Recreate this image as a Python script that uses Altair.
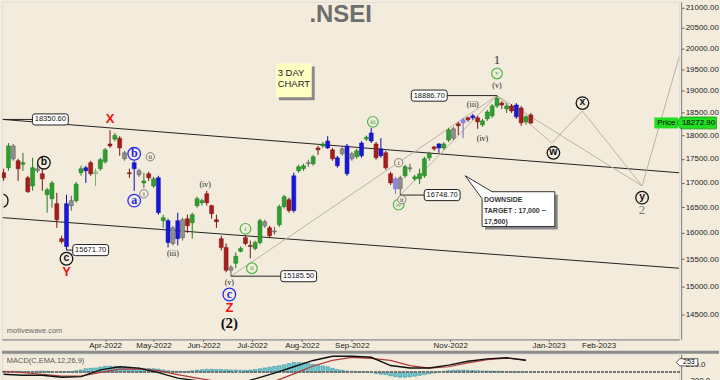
import altair as alt
import pandas as pd

BG = "#F3ECDC"
SANS = "Liberation Sans"
SERIF = "Liberation Serif"

# ---------------- 3-day bars ----------------
bar_dates = pd.date_range("2022-01-28", periods=110, freq="3D").strftime("%Y-%m-%d").tolist()
bar_open = [17206,17311,17773,17458,17385,17101,16934,17290,17185,16755,
            16676,16576,15890,16576,16636,16636,17206,17311,17416,17185,
            17290,17437,17815,17920,17941,17626,17206,17416,17248,16996,
            17185,16934,17101,16238,16238,16099,16238,15909,16278,16198,
            16536,16596,16775,16536,16258,15890,15723,15351,15425,15648,
            15909,15760,15704,15816,16218,16099,16039,16158,16516,16656,
            16437,17248,17290,17416,17395,17731,17773,17878,17689,17521,
            17710,17773,17605,17542,17836,17920,18054,17815,17710,17626,
            17185,17080,17101,17143,17311,17080,17080,17143,17521,17752,
            17815,17731,17899,18143,18253,18342,18386,18430,18386,18231,
            18364,18430,18651,18717,18585,18651,18673,18607,18297,18452]
bar_high = [17290,17836,17815,17500,17626,17143,17521,17395,17395,16895,
            17038,16795,15946,16755,16735,17017,17353,17353,17458,17290,
            17521,17731,18114,18054,17983,17668,17290,17458,17290,17206,
            17227,17122,17143,16357,16278,16138,16397,16298,16357,16397,
            16715,16676,16835,16556,16357,15946,15797,15390,15630,15741,
            15946,15853,15853,16278,16258,16138,16119,16556,16755,16696,
            17206,17374,17395,17479,17584,17773,17857,17983,17731,17563,
            17752,17815,17647,17710,17878,18000,18165,17857,17941,17668,
            17227,17122,17143,17374,17395,17164,17290,17542,17647,17773,
            17836,17857,18165,18187,18297,18386,18408,18474,18430,18364,
            18562,18695,18886.7,18761,18717,18695,18717,18651,18452,18496]
bar_low = [17038,17248,17458,17038,17248,16795,16835,17206,16835,16397,
           16495,16099,15797,15671.7,16437,16596,17143,16996,17143,16934,
           17248,17395,17731,17878,17563,17458,17101,16835,17122,16895,
           17038,16895,16357,16099,15723,15760,15760,15853,15999,15890,
           16495,16536,16536,16278,16099,15667,15258,15185.5,15332,15630,
           15760,15518,15667,15779,16099,15909,15965,16119,16477,16397,
           16397,17206,17248,17332,17353,17584,17731,17710,17458,17311,
           17563,17143,17458,17500,17521,17878,17836,17479,17521,17269,
           16954,16775,16748.7,17101,17227,17038,16974,17101,17458,17668,
           17626,17689,17857,17899,18010,17941,18297,18342,18143,18187,
           18319,18386,18607,18585,18496,18496,18364,18209,18231,18253]
bar_close = [17101,17773,17500,17290,17416,16815,17311,17248,17080,16855,
             16996,16258,15834,15741,16536,16974,17290,17248,17185,17227,
             17479,17689,17773,18000,17731,17500,17185,17290,17164,17038,
             17101,17080,16397,16298,15816,15797,15890,16258,16138,16357,
             16676,16636,16596,16377,16218,15723,15295,15295,15555,15704,
             15797,15741,15816,16238,16138,15946,16019,16516,16715,16437,
             17143,17332,17353,17395,17542,17689,17815,17731,17500,17353,
             17605,17185,17500,17668,17563,17962,17878,17521,17563,17311,
             16996,16875,16875,17332,17290,17122,17185,17500,17605,17710,
             17731,17815,18120,17941,18209,18275,18342,18386,18297,18319,
             18518,18651,18828,18673,18651,18540,18408,18275,18408,18272.9]
bar_kind = ["r","g","k","r","g","r","g","k","r","g",
            "g","r","r","b","k","g","g","b","r","lg",
            "g","g","r","g","r","k","r","b","k","g",
            "r","g","b","g","b","k","b","k","r","g",
            "g","g","r","r","r","r","r","k","g","g",
            "r","r","g","g","k","r","k","g","g","r",
            "b","g","g","k","g","r","g","b","r","b",
            "k","b","k","g","b","g","b","r","b","r",
            "r","lb","k","g","k","g","g","g","g","r",
            "b","g","g","k","r","lb","r","b","r","g",
            "g","g","g","r","g","r","b","r","g","r"]

# ---------------- MACD ----------------
macd_hist = [20,25,30,25,20,15,20,25,30,25,20,15,10,15,20,40,60,
             90,100,110,130,
             150,155,150,145,140,130,
             115,105,100,95,90,80,
             60,40,30,25,20,25,
             40,55,65,75,75,70,70,65,60,55,
             50,50,55,70,
             90,110,130,150,165,
             190,220,250,250,240,220,
             200,180,160,140,
             100,70,50,35,25,15,10,5,
             -10,-30,-50,-60,
             -90,-110,-125,-125,-115,-100,
             -80,-60,-40,-20,
             10,25,40,50,55,55,50,45,
             40,35,30,30,25,25,20,20,15,15,10,5]
macd_line = [-50,-75,-75,-125,-110,60,140,105,-10,-150,-215,-280,-300,-170,
             -20,140,300,405,405,380,170,110,110,180,280,340,370,304]
macd_signal = [25,-10,-50,-100,-100,-5,80,85,40,-60,-150,-230,-290,-310,
               -230,-40,160,300,380,355,300,170,105,140,240,320,360,300]
macd_dates = bar_dates[::4]

price_ticks = [14500,15000,15500,16000,16500,17000,17500,18000,18500,19000,19500,20000,20500,21000]

candles = pd.DataFrame(dict(date=bar_dates, open=bar_open, high=bar_high, low=bar_low,
                            close=bar_close, kind=bar_kind))
hist_df = pd.DataFrame(dict(date=bar_dates, h=macd_hist))
macd_df = pd.DataFrame(dict(date=macd_dates, macd=macd_line, sig=macd_signal))

KINDS = ["g", "lg", "r", "b", "lb", "k"]
BODY = ["#2E9E2E", "#8CCB8C", "#A81C1C", "#1818D8", "#8A8AE6", "#8F8F8F"]
WICK = ["#1F7A1F", "#6DB36D", "#7A1010", "#0C0CA8", "#6A6AD0", "#5A5A5A"]


def dt(y, m, d):
    return alt.DateTime(year=y, month=m, date=d, utc=True)


XS = alt.Scale(type="utc", domain=[dt(2022, 1, 27), dt(2023, 3, 23)], padding=0)
YS = alt.Scale(type="log", domain=[14069, 21152], nice=False, padding=0)
X_AX = alt.Axis(values=[dt(2022, 4, 1), dt(2022, 5, 1), dt(2022, 6, 1), dt(2022, 7, 1),
                        dt(2022, 8, 1), dt(2022, 9, 1), dt(2022, 11, 1), dt(2023, 1, 1),
                        dt(2023, 2, 1)],
                format="%b-%Y", title=None, grid=False, labelFont=SANS,
                labelFontSize=8, labelColor="#222", tickSize=2, tickColor="#666",
                domainColor="#777", labelPadding=0, labelFlush=False, labelOverlap=False)
Y_AX = alt.Axis(orient="right", values=price_ticks, format=".2f", title=None, grid=False,
                labelFont=SANS, labelFontSize=8, labelColor="#222", tickSize=3,
                tickColor="#666", domainColor="#777", offset=2, labelPadding=1,
                labelOverlap=False, labelFlush=False)


def X(f):
    return alt.X(f, type="temporal", scale=XS, axis=X_AX)


def Y(f):
    return alt.Y(f, type="quantitative", scale=YS, axis=Y_AX)


def seg(df, color, width):
    return alt.Chart(df).mark_rule(color=color, strokeWidth=width, clip=True).encode(
        x=X("d1"), x2="d2", y=Y("p1"), y2="p2")


def txt(df, clip=True, **kw):
    return alt.Chart(df).mark_text(clip=clip, **kw).encode(x=X("d"), y=Y("p"), text="t:N")


def shape(df, path, size, fill, stroke=None, sw=1.0, dx=0, dy=0, clip=True):
    kw = dict(shape=path, size=size, filled=True, fill=fill, opacity=1, fillOpacity=1, clip=clip)
    if stroke:
        kw.update(stroke=stroke, strokeWidth=sw, strokeOpacity=1)
    else:
        kw.update(strokeWidth=0)
    if dx:
        kw.update(xOffset=dx, yOffset=dy)
    return alt.Chart(df).mark_point(**kw).encode(x=X("d"), y=Y("p"))


def circ(df, size, stroke, sw):
    return alt.Chart(df).mark_point(shape="circle", size=size, filled=True, fill=BG, stroke=stroke,
                                    strokeWidth=sw, opacity=1, clip=True).encode(x=X("d"), y=Y("p"))


def D(d, p, t=None):
    df = pd.DataFrame(dict(d=d, p=p))
    if t is not None:
        df["t"] = t
    return df


START = "2022-01-27T12:00:00Z"
# channel lines
chan = pd.DataFrame(dict(d1=[START, START], p1=[18350.6, 16298],
                         d2=["2023-03-23", "2023-03-23"], p2=[17206, 15332]))
# wave lines
wave = pd.DataFrame(dict(
    d1=["2022-06-18", "2022-10-01", "2022-11-30", "2023-01-03", "2023-01-22", "2023-02-28", "2022-11-30"],
    p1=[15185.5, 16748.7, 18886.7, 17836, 18540, 16934, 18886.7],
    d2=["2022-11-30", "2022-11-30", "2023-01-03", "2023-01-22", "2023-02-28", "2023-03-23", "2023-02-28"],
    p2=[18886.7, 18886.7, 17836, 18540, 16934, 19798, 16934]))
# label connectors
conn = pd.DataFrame(dict(
    d1=[START, "2022-03-08", "2022-10-30", "2022-06-18", "2022-10-01"],
    p1=[18350.6, 15671.7, 18886.7, 15185.5, 16748.7],
    d2=["2022-02-16", "2022-03-12", "2022-11-30", "2022-07-19", "2022-10-16"],
    p2=[18350.6, 15671.7, 18886.7, 15185.5, 16748.7]))

lab = D(["2022-02-26", "2022-03-23", "2022-10-19", "2022-07-30", "2022-10-27"],
        [18350.6, 15671.7, 18886.7, 15185.5, 16748.7],
        ["18350.60", "15671.70", "18886.70", "15185.50", "16748.70"])
LABEL_PATH = ("M-0.86,-0.31 L0.86,-0.31 Q1,-0.31 1,-0.17 L1,0.17 Q1,0.31 0.86,0.31 "
              "L-0.86,0.31 Q-1,0.31 -1,0.17 L-1,-0.17 Q-1,-0.31 -0.86,-0.31 Z")

day_box = D(["2022-07-27"], [19236])
day_txt = D(["2022-07-17", "2022-07-17"], [19398, 19143], ["3 DAY", "CHART"])
DAY_PATH = "M-1,-0.944 L1,-0.944 L1,0.944 L-1,0.944 Z"

call_box = D(["2022-12-13"], [16457])
CALL_PATH = ("M-1.432,-0.919 L-0.703,-0.486 L1,-0.486 L1,0.459 L-0.973,0.459 "
             "L-0.973,-0.297 Z")
call_txt = D(["2022-11-22"] * 3, [16656, 16437, 16218],
             ["DOWNSIDE", "TARGET : 17,000 ~", "17,500)"])

# circle cut by the left edge of the chart
edge_circ = D(["2022-01-28"], [16636])
EDGE_PATH = "M0,-0.929 A1,1 0 0,1 0,0.929"

circ_black = D(["2022-02-22", "2022-03-08", "2023-01-04", "2023-01-22", "2023-02-28"],
               [17416, 15509, 17626, 18717, 16696], ["b", "c", "w", "x", "y"])
circ_blue = D(["2022-04-19", "2022-04-19", "2022-06-17"], [17605, 16636, 14853], ["b", "a", "c"])
circ_green = D(["2022-06-27", "2022-07-01", "2022-09-14", "2022-09-30", "2022-11-30"],
               [16079, 15332, 18297, 16556, 19398], ["i", "ii", "iii", "iv", "v"])
circ_small = D(["2022-04-25", "2022-04-29", "2022-09-30", "2022-10-02"],
               [16775, 17542, 17416, 16656], ["i", "ii", "i", "ii"])
roman = D(["2022-05-13", "2022-06-02", "2022-06-17", "2022-11-15", "2022-11-21", "2022-11-30"],
          [15593, 16954, 15054, 18673, 17920, 19098],
          ["(iii)", "(iv)", "(v)", "(iii)", "(iv)", "(v)"])
red_lbl = D(["2022-04-04", "2022-03-08", "2022-06-17"], [18364, 15258, 14620], ["X", "Y", "Z"])
deg2 = D(["2022-06-17"], [14343], ["(2)"])
one = D(["2022-11-30"], [19727], ["1"])
two = D(["2023-02-28"], [16457], ["2"])
title = D(["2022-08-25"], [20824], [".NSEI"])
brand = D(["2022-01-30"], [14207], ["motivewave.com"])

price_tag = D(["2023-03-15"], [18272.9], ["Price"])
val_tag = D(["2023-04-04"], [18272.9], ["18272.90"])
PRICE_PATH = "M-1,-0.458 L1,-0.458 L1,0.458 L-1,0.458 Z"
VAL_PATH = "M-1.2,0 L-1,-0.33 L1,-0.33 L1,0.33 L-1,0.33 Z"

layers = [
    seg(chan, "#222222", 1),
    seg(wave, "#B9B1A2", 1),
    alt.Chart(candles).mark_rule(strokeWidth=1, clip=True).encode(
        x=X("date"), y=Y("low"), y2="high",
        color=alt.Color("kind:N", scale=alt.Scale(domain=KINDS, range=WICK), legend=None)),
    alt.Chart(candles).mark_bar(size=4, strokeWidth=0.5, clip=True).encode(
        x=X("date"), y=Y("open"), y2="close",
        fill=alt.Fill("kind:N", scale=alt.Scale(domain=KINDS, range=BODY), legend=None),
        stroke=alt.Stroke("kind:N", scale=alt.Scale(domain=KINDS, range=WICK), legend=None)),
    seg(conn, "#222222", 1),
    shape(lab, LABEL_PATH, 1296, "#FFFFFF", "#222222", 1),
    txt(lab, fontSize=7.5, font=SANS, color="#111"),
    shape(day_box, DAY_PATH, 1296, "#8A8A8A", dx=3, dy=3),
    shape(day_box, DAY_PATH, 1296, "#FFFFC4"),
    txt(day_txt, align="left", fontSize=9.5, font=SANS, color="#222"),
    shape(call_box, CALL_PATH, 5476, "#8A8A8A", dx=3, dy=3),
    shape(call_box, CALL_PATH, 5476, "#FFFFFF", "#333333", 1),
    txt(call_txt, align="left", fontSize=7, fontWeight="bold", font=SANS, color="#333"),
    alt.Chart(edge_circ).mark_point(shape=EDGE_PATH, size=196, filled=False, stroke="#111",
                                    strokeWidth=1.3, opacity=1).encode(x=X("d"), y=Y("p")),
    circ(circ_black, 160, "#111", 1.3),
    txt(circ_black, fontSize=10.5, fontWeight="bold", font=SANS, color="#111", dy=-1),
    circ(circ_blue, 160, "#2B2BEE", 1.3),
    txt(circ_blue, fontSize=12, fontWeight="bold", font=SERIF, color="#2222EE", dy=-1),
    circ(circ_green, 115, "#4CB84C", 1.2),
    txt(circ_green, fontSize=7, font=SERIF, color="#3AA53A"),
    circ(circ_small, 70, "#666", 0.8),
    txt(circ_small, fontSize=6.5, font=SERIF, color="#333"),
    txt(roman, fontSize=8, font=SERIF, color="#222"),
    txt(red_lbl, fontSize=13, fontWeight="bold", font=SANS, color="#EE1111"),
    txt(deg2, fontSize=15, fontWeight="bold", font=SERIF, color="#111"),
    txt(one, fontSize=13, font=SERIF, color="#333"),
    txt(two, fontSize=13, font=SERIF, color="#777"),
    txt(title, fontSize=24, fontWeight="bold", font=SANS, color="#6E6E6E"),
    txt(brand, align="left", fontSize=7.5, font=SANS, color="#666"),
    shape(price_tag, PRICE_PATH, 576, "#22DD22", clip=False),
    txt(price_tag, clip=False, fontSize=8, font=SANS, color="#000"),
    shape(val_tag, VAL_PATH, 1296, "#22DD22", "#119911", 0.8, clip=False),
    txt(val_tag, clip=False, fontSize=8, font=SANS, color="#000"),
]
main = alt.layer(*layers).properties(width=680, height=339)

# ---------------- MACD panel ----------------
MY = alt.Scale(domain=[-557, 455], nice=False, zero=False, padding=0)
MY_AX = alt.Axis(orient="right", values=[-200, 200], format=".1f", title=None, grid=False,
                 labelFont=SANS, labelFontSize=8, labelColor="#222", tickSize=3,
                 tickColor="#666", domainColor="#777", offset=2, labelPadding=1)


def MX(f):
    return alt.X(f, type="temporal", scale=XS, axis=None)


def MYf(f):
    return alt.Y(f, type="quantitative", scale=MY, axis=MY_AX)


macd_lbl = pd.DataFrame(dict(d=["2022-01-30"], v=[278], t=["MACD(C,EMA,12,26,9)"]))
macd_tag = pd.DataFrame(dict(d=["2023-03-29"], v=[253], t=["253"]))
TAG_PATH = "M-1.4,0 L-1,-0.4 L1,-0.4 L1,0.4 L-1,0.4 Z"

mlayers = [
    alt.Chart(hist_df).mark_bar(size=3.6, color="#67C9D3", stroke="#2C8692", strokeWidth=0.5,
                                clip=True).encode(x=MX("date"), y=MYf("h"), y2=alt.datum(0)),
    alt.Chart(hist_df).mark_rule(color="#777", strokeDash=[2, 2], strokeWidth=1).encode(y=alt.datum(0)),
    alt.Chart(macd_df).mark_line(color="#B03A3A", strokeWidth=1.2, clip=True).encode(
        x=MX("date"), y=MYf("sig")),
    alt.Chart(macd_df).mark_line(color="#111", strokeWidth=1.4, clip=True).encode(
        x=MX("date"), y=MYf("macd")),
    alt.Chart(macd_lbl).mark_text(align="left", fontSize=7.5, font=SANS, color="#555").encode(
        x=MX("d"), y=MYf("v"), text="t:N"),
    alt.Chart(macd_tag).mark_point(shape=TAG_PATH, size=324, filled=True, fill="#FFFFFF",
                                   stroke="#333", strokeWidth=0.8, opacity=1).encode(
        x=MX("d"), y=MYf("v")),
    alt.Chart(macd_tag).mark_text(fontSize=7, font=SANS, color="#000").encode(
        x=MX("d"), y=MYf("v"), text="t:N"),
    alt.Chart(macd_tag).mark_rect(color="#8C8C8C").encode(
        x=alt.value(0), x2=alt.value(720), y=alt.value(-3.5), y2=alt.value(-0.5)),
]
macd = alt.layer(*mlayers).properties(width=680, height=40)

chart = alt.vconcat(main, macd, spacing=0).properties(
    background=BG, padding=0
).configure_view(stroke="#888", strokeWidth=1).configure(font=SANS)

chart.save("out.html", embed_options={"renderer": "svg", "actions": False})
